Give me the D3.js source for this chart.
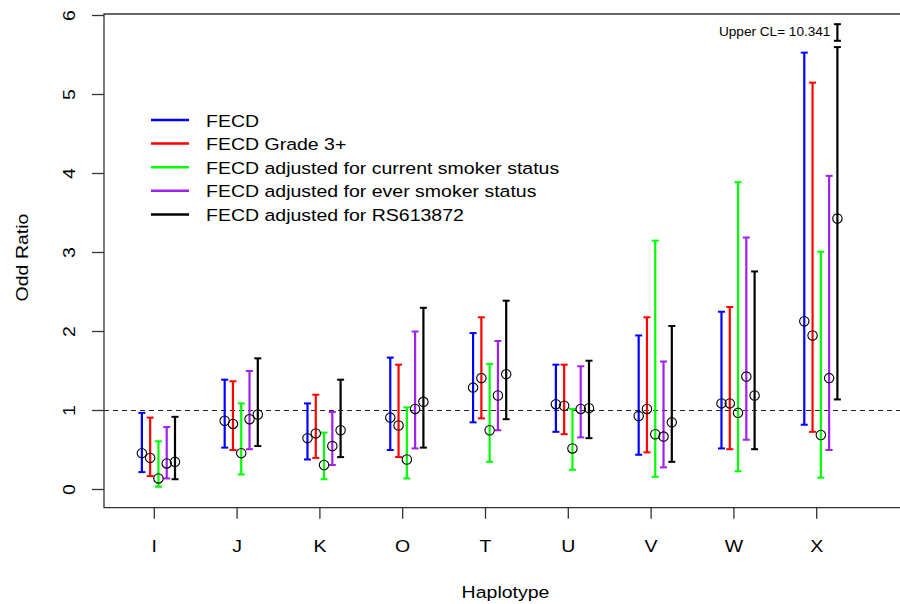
<!DOCTYPE html>
<html>
<head>
<meta charset="utf-8">
<script src="https://cdn.jsdelivr.net/npm/d3@7"></script>
<style>
  body { margin: 0; background: #fff; }
  text { font-family: "Liberation Sans", Arial, sans-serif; fill: #000; }
</style>
</head>
<body>
<svg id="chart" width="900" height="604"></svg>
<script>
// --- Data: [odds ratio, lower CL, upper CL] per haplotype ---
const haplotypes = ["I", "J", "K", "O", "T", "U", "V", "W", "X"];
const fecd        = [[0.46,0.22,0.97],[0.87,0.53,1.39],[0.65,0.38,1.09],[0.91,0.50,1.67],[1.29,0.85,1.98],[1.08,0.73,1.58],[0.93,0.44,1.95],[1.09,0.52,2.25],[2.13,0.82,5.53]];
const fecdGrade3  = [[0.40,0.17,0.91],[0.83,0.50,1.37],[0.71,0.40,1.20],[0.81,0.41,1.58],[1.41,0.90,2.18],[1.06,0.70,1.58],[1.02,0.47,2.18],[1.09,0.51,2.31],[1.95,0.73,5.15]];
const fecdCurrent = [[0.14,0.035,0.61],[0.46,0.19,1.09],[0.31,0.13,0.72],[0.38,0.14,1.04],[0.75,0.35,1.59],[0.52,0.25,1.02],[0.70,0.16,3.15],[0.97,0.23,3.89],[0.69,0.15,3.01]];
const fecdEver    = [[0.33,0.14,0.79],[0.89,0.51,1.50],[0.55,0.31,0.98],[1.02,0.52,2.00],[1.19,0.75,1.88],[1.02,0.66,1.56],[0.67,0.28,1.62],[1.43,0.63,3.19],[1.41,0.50,3.97]];
const fecdRS      = [[0.35,0.13,0.92],[0.95,0.55,1.66],[0.75,0.41,1.39],[1.11,0.53,2.30],[1.46,0.89,2.39],[1.03,0.65,1.63],[0.85,0.35,2.07],[1.19,0.51,2.76],[3.43,1.14,5.60]];

const seriesNames = ["FECD", "FECD Grade 3+", "FECD adjusted for current smoker status",
                     "FECD adjusted for ever smoker status", "FECD adjusted for RS613872"];
const seriesColors = ["#0000ff", "#ff0000", "#00ff00", "#a020f0", "#000000"];
const seriesOffsets = [-0.15, -0.05, 0.05, 0.15, 0.25];
const allSeries = [fecd, fecdGrade3, fecdCurrent, fecdEver, fecdRS];

const yTicks = [0, 1, 2, 3, 4, 5, 6];
const upperCLNote = 10.341;       // true upper limit of X, off the chart
const upperCLMark = [5.68, 5.89]; // small marker bar drawn beside the note

// --- Layout ---
const svg = d3.select("#chart");
const plotLeft = 104, plotTop = 14, plotBottom = 507.7, plotRight = 900;
const fontSize = 19.5;

const y = d3.scaleLinear().domain([0, 6]).range([489.5, 15.5]);
const x = d3.scalePoint().domain(haplotypes).range([154.3, 816.7]);
const step = x.step();

// the source text is wide for its height, so squash glyphs a little vertically
function label(parent, px, py, str, opts = {}) {
    const rot = opts.rotate ? " rotate(-90)" : "";
    return parent.append("text")
        .attr("transform", `translate(${px},${py})${rot} scale(1,0.88)`)
        .attr("text-anchor", opts.anchor || "middle")
        .attr("font-size", opts.size || fontSize)
        .text(str);
}

// frame (left, top, bottom; right side runs off the image)
svg.append("path")
    .attr("d", `M${plotRight},${plotTop}H${plotLeft}V${plotBottom}H${plotRight}`)
    .attr("fill", "none")
    .attr("stroke", "#333")
    .attr("stroke-width", 1.3);

// y axis
const yAxis = svg.append("g");
yTicks.forEach(t => {
    yAxis.append("line")
        .attr("x1", plotLeft - 12).attr("x2", plotLeft)
        .attr("y1", y(t)).attr("y2", y(t))
        .attr("stroke", "#333").attr("stroke-width", 1.3);
    label(yAxis, 75, y(t), t, { rotate: true });
});

// x axis
const xAxis = svg.append("g");
haplotypes.forEach(h => {
    xAxis.append("line")
        .attr("x1", x(h)).attr("x2", x(h))
        .attr("y1", plotBottom).attr("y2", plotBottom + 11)
        .attr("stroke", "#333").attr("stroke-width", 1.3);
    label(xAxis, x(h), 551.5, h);
});

// axis titles
label(svg, 505.5, 598, "Haplotype");
label(svg, 27.5, 257.5, "Odd Ratio", { rotate: true });

// reference line at OR = 1
svg.append("line")
    .attr("x1", plotLeft).attr("x2", plotRight)
    .attr("y1", y(1)).attr("y2", y(1))
    .attr("stroke", "#222")
    .attr("stroke-width", 1)
    .attr("stroke-dasharray", "5,4");

// --- Error bars and points ---
const cap = 3.5;
function errorBar(g, cx, lo, hi, color) {
    g.append("line")
        .attr("x1", cx).attr("x2", cx)
        .attr("y1", y(lo)).attr("y2", y(hi))
        .attr("stroke", color).attr("stroke-width", 2.2);
    [lo, hi].forEach(v => {
        g.append("line")
            .attr("x1", cx - cap).attr("x2", cx + cap)
            .attr("y1", y(v)).attr("y2", y(v))
            .attr("stroke", color).attr("stroke-width", 2);
    });
}

allSeries.forEach((series, s) => {
    const g = svg.append("g");
    series.forEach((d, i) => {
        const cx = x(haplotypes[i]) + seriesOffsets[s] * step;
        errorBar(g, cx, d[1], d[2], seriesColors[s]);
    });
});

// points on top
allSeries.forEach((series, s) => {
    svg.append("g").selectAll("circle")
        .data(series)
        .join("circle")
        .attr("cx", (d, i) => x(haplotypes[i]) + seriesOffsets[s] * step)
        .attr("cy", d => y(d[0]))
        .attr("r", 4.7)
        .attr("fill", "none")
        .attr("stroke", "#000")
        .attr("stroke-width", 1.1);
});

// note for the clipped upper limit of X / RS613872
const noteX = x("X") + seriesOffsets[4] * step;
errorBar(svg.append("g"), noteX, upperCLMark[0], upperCLMark[1], "#000");
label(svg, noteX - 7, 35.5, `Upper CL= ${upperCLNote}`, { anchor: "end", size: 13.6 });

// --- Legend ---
const legend = svg.append("g");
seriesNames.forEach((name, i) => {
    const ly = 120 + i * 23.6;
    legend.append("line")
        .attr("x1", 151).attr("x2", 189)
        .attr("y1", ly).attr("y2", ly)
        .attr("stroke", seriesColors[i]).attr("stroke-width", 2.5);
    label(legend, 206, ly + 6.5, name, { anchor: "start" });
});
</script>
</body>
</html>
